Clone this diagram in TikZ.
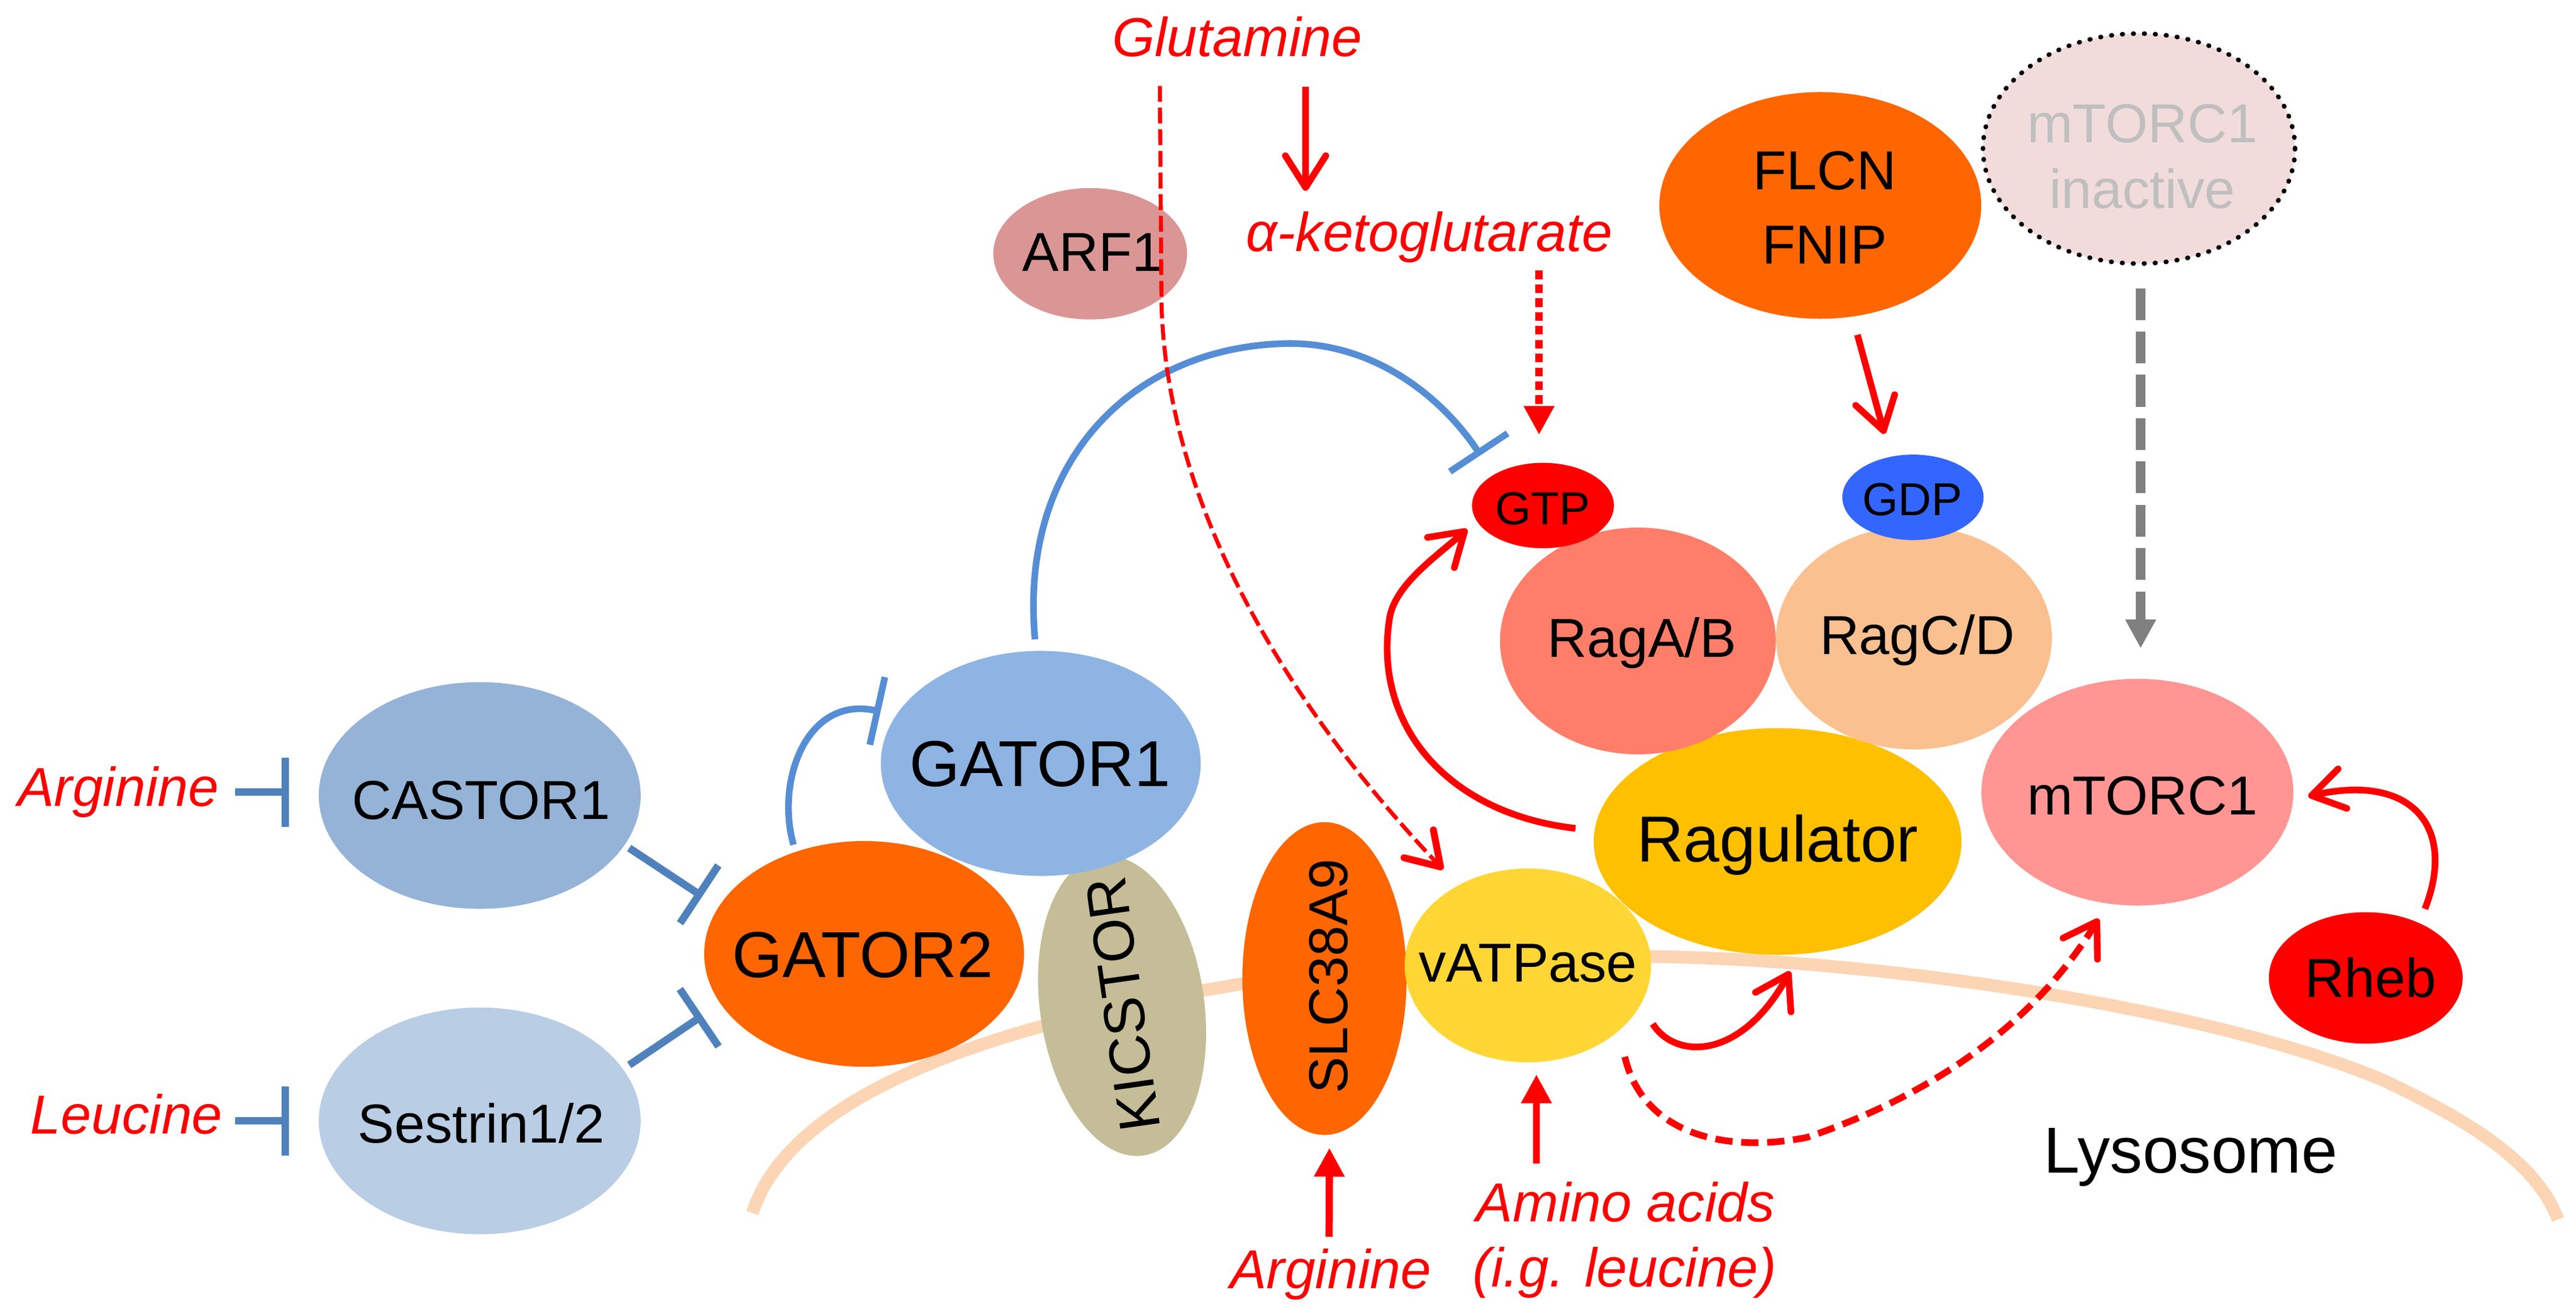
\documentclass[tikz,border=0pt]{standalone}
\usepackage{fontspec}
\setmainfont{Liberation Sans}
\usetikzlibrary{shapes.geometric,arrows.meta,calc}
\definecolor{cRed}{HTML}{FF0000}
\definecolor{cOrange}{HTML}{FF6600}
\definecolor{cArf}{HTML}{D99694}
\definecolor{cInact}{HTML}{F2DCDB}
\definecolor{cInactTxt}{HTML}{BFBFBF}
\definecolor{cKic}{HTML}{C4BD97}
\definecolor{cG1}{HTML}{8EB4E3}
\definecolor{cCastor}{HTML}{95B3D7}
\definecolor{cSest}{HTML}{B9CDE5}
\definecolor{cRagu}{HTML}{FFC000}
\definecolor{cVat}{HTML}{FFD634}
\definecolor{cRagAB}{HTML}{FF7E6A}
\definecolor{cRagCD}{HTML}{FAC090}
\definecolor{cGdp}{HTML}{3366FF}
\definecolor{cMtor}{HTML}{FF9694}
\definecolor{cMemb}{HTML}{FCD5B5}
\definecolor{cBlueD}{HTML}{4F81BD}
\definecolor{cBlueL}{HTML}{558ED5}
\definecolor{cGrey}{HTML}{808080}
\newcommand\fsN{\fontsize{19}{22.8}\selectfont}
\newcommand\fsB{\fontsize{22.5}{27}\selectfont}
\newcommand\fsS{\fontsize{16}{19}\selectfont}
\begin{document}
\begin{tikzpicture}[x=0.02cm,y=-0.02cm,
  ell/.style 2 args={ellipse, inner sep=0pt, outer sep=0pt, minimum width=#1*0.04cm, minimum height=#2*0.04cm},
  txt/.style={inner sep=0pt, outer sep=0pt, anchor=base, font=\fsN},
  bigtxt/.style={txt, font=\fsB},
  smalltxt/.style={txt, font=\fsS},
  redtxt/.style={txt, text=cRed, font=\fsN\itshape},
  inhL/.style={draw=cBlueD, line width=2.6pt, -{Bar[width=24pt]}},
  inhA/.style={draw=cBlueL, line width=2.3pt, -{Bar[width=24pt]}},
  actV/.style={draw=cRed, line width=2.3pt, -{Straight Barb[length=11pt,width=14pt,round]}},
  actT/.style={draw=cRed, line width=2.5pt, -{Triangle[length=10pt,width=10pt]}},
]
\useasboundingbox (0,0) rectangle (1568,800.7);

% lysosome membrane
\draw[cMemb, line width=4.4pt] (458,738) .. controls (480,670) and (590,625) .. (760,598)
  .. controls (880,585) and (950,580) .. (1006,582)
  .. controls (1150,584) and (1350,615) .. (1450,657)
  .. controls (1510,685) and (1545,710) .. (1557,742);

% blobs
\node[ell={59}{40}, fill=cArf] (arf) at (663.6,154.4) {};
\node[ell={98}{69}, fill=cOrange] (flcn) at (1108,125) {};
\node[ell={95}{70}, fill=cInact, draw=black, line width=1.6pt, line cap=round, dash pattern=on 0.2pt off 3.6pt] (mtinact) at (1302,90.4) {};
\node[ell={97.4}{68.7}, fill=cOrange] (gator2) at (526,580.4) {};
\node[ell={50}{92}, fill=cKic, rotate=8] (kic) at (683,612) {};
\node[ell={97.4}{68.5}, fill=cG1] (gator1) at (633.5,464.5) {};
\node[ell={98}{69}, fill=cCastor] (castor) at (292,484) {};
\node[ell={98}{69}, fill=cSest] (sestrin) at (292,682) {};
\node[ell={50}{95.2}, fill=cOrange] (slc) at (806.2,595.4) {};
\node[ell={112}{69}, fill=cRagu] (ragu) at (1082,512) {};
\node[ell={75}{59}, fill=cVat] (vatp) at (930,587.4) {};
\node[ell={84}{69}, fill=cRagAB] (ragab) at (997,390) {};
\node[ell={84}{68}, fill=cRagCD] (ragcd) at (1165,388) {};
\node[ell={43.2}{26}, fill=cRed] (gtp) at (939.2,307.6) {};
\node[ell={43}{26}, fill=cGdp] (gdp) at (1164.4,302.6) {};
\node[ell={95}{69}, fill=cMtor] (mtorc) at (1301,482) {};
\node[ell={59}{40}, fill=cRed] (rheb) at (1440,595) {};

% texts
\node[txt] (arfT) at (665,165) {ARF1};
\node[redtxt] (glut) at (753,34.3) {Glutamine};
\node[redtxt] (akg) at (870,153) {α-ketoglutarate};
\node[txt] (flcnT) at (1110.6,115.3) {FLCN};
\node[txt] (fnipT) at (1110.6,160.4) {FNIP};
\node[txt, text=cInactTxt] (inactA) at (1304,86.6) {mTORC1};
\node[txt, text=cInactTxt] (inactB) at (1304,126.7) {inactive};
\node[smalltxt] (gtpT) at (939,319.3) {GTP};
\node[smalltxt] (gdpT) at (1164,313.5) {GDP};
\node[txt] (ragabT) at (999.5,399.8) {RagA/B};
\node[txt] (ragcdT) at (1167,398) {RagC/D};
\node[bigtxt] (gator1T) at (633,478.5) {GATOR1};
\node[bigtxt] (gator2T) at (525,594.5) {GATOR2};
\node[txt] (castorT) at (293,498.4) {CASTOR1};
\node[txt] (sestrinT) at (293,695.5) {Sestrin1/2};
\node[redtxt] (argL) at (72,490.7) {Arginine};
\node[redtxt] (leuL) at (77,690) {Leucine};
\node[txt, anchor=center, rotate=98, font=\fontsize{20}{24}\selectfont] (kicT) at (683.5,611) {KICSTOR};
\node[txt, anchor=center, rotate=90] (slcT) at (808.6,594) {SLC38A9};
\node[txt] (vatpT) at (930,597.4) {vATPase};
\node[bigtxt] (raguT) at (1082,524.2) {Ragulator};
\node[txt] (mtorcT) at (1304,495.8) {mTORC1};
\node[txt] (rhebT) at (1443,606.6) {Rheb};
\node[bigtxt] (lysoT) at (1333.5,713.6) {Lysosome};
\node[redtxt] (aminoT) at (989.5,743.2) {Amino acids};
\node[redtxt] (leucT) at (989,783) {(i.g. leucine)};
\node[redtxt] (argB) at (810,784) {Arginine};

% inhibitions
\draw[inhL] ($(castor.west)+(-51,-2)$) -- ($(castor.west)+(-18,-2)$);
\draw[inhL] ($(sestrin.west)+(-51,0)$) -- ($(sestrin.west)+(-18,0)$);
\draw[inhL] ($(castor)+(91,32)$) -- ($(gator2)+(-98.5,-35)$);
\draw[inhL] ($(sestrin)+(91,-34)$) -- ($(gator2)+(-98.5,37.6)$);
\draw[inhA] ($(gator2)+(-43,-66.4)$) .. controls +(-11,-39) and +(-45,-10) .. ($(gator1)+(-97.5,-31.5)$);
\draw[inhA] ($(gator1)+(-3.5,-75.5)$) .. controls (620,280) and (690,210) .. (785,209)
  .. controls (840,209) and (880,245) .. ($(gtp)+(-38,-30.6)$);

% activations
\draw[actV] ($(glut.base)+(41.7,18.5)$) -- ($(akg.base)+(-75.3,-36.9)$);
\draw[cRed, line width=2.6pt, dash pattern=on 3pt off 1.8pt, -{Triangle[length=10pt,width=10pt]}]
  ($(gtp)+(-2.4,-143)$) -- ($(gtp)+(-2.4,-43)$);
\draw[cRed, line width=1.4pt, dash pattern=on 5.5pt off 2pt, -{Straight Barb[length=11pt,width=14pt,round,line width=2.4pt]}]
  ($(glut.base)+(-47,18)$) -- (707,185) .. controls (710,300) and (775,420) .. ($(vatp)+(-51.7,-58.4)$);
\draw[actV] ($(flcn)+(22.6,78.7)$) -- ($(gdp)+(-17.4,-38.6)$);
\draw[cGrey, line width=3.3pt, dash pattern=on 11pt off 4pt, -{Triangle[length=10pt,width=10pt]}]
  ($(mtinact)+(1,85)$) -- ($(mtorc)+(2,-87.5)$);
\draw[actV] ($(ragu)+(-123,-8)$) .. controls (880,495) and (835,440) .. (846,375)
  .. controls (850,355) and (875,338) .. ($(gtp)+(-46.2,14.4)$);
\draw[actV] ($(vatp)+(76,35.6)$) .. controls (1020,645) and (1060,645) .. ($(ragu)+(7.6,79)$);
\draw[actV, dash pattern=on 6pt off 3pt] ($(vatp)+(59,55.6)$) .. controls (1000,690) and (1050,702) .. (1100,692)
  .. controls (1180,665) and (1240,620) .. ($(mtorc)+(-23.6,77)$);
\draw[actV] ($(rheb)+(36,-42)$) .. controls (1495,505) and (1470,470) .. ($(mtorc)+(104,2.5)$);
\draw[actT] ($(argB.base)+(-1,-31.4)$) -- ($(slc)+(3,103)$);
\draw[actT] ($(aminoT.base)+(-54.3,-35.2)$) -- ($(vatp)+(5.2,66.3)$);
\end{tikzpicture}
\end{document}
